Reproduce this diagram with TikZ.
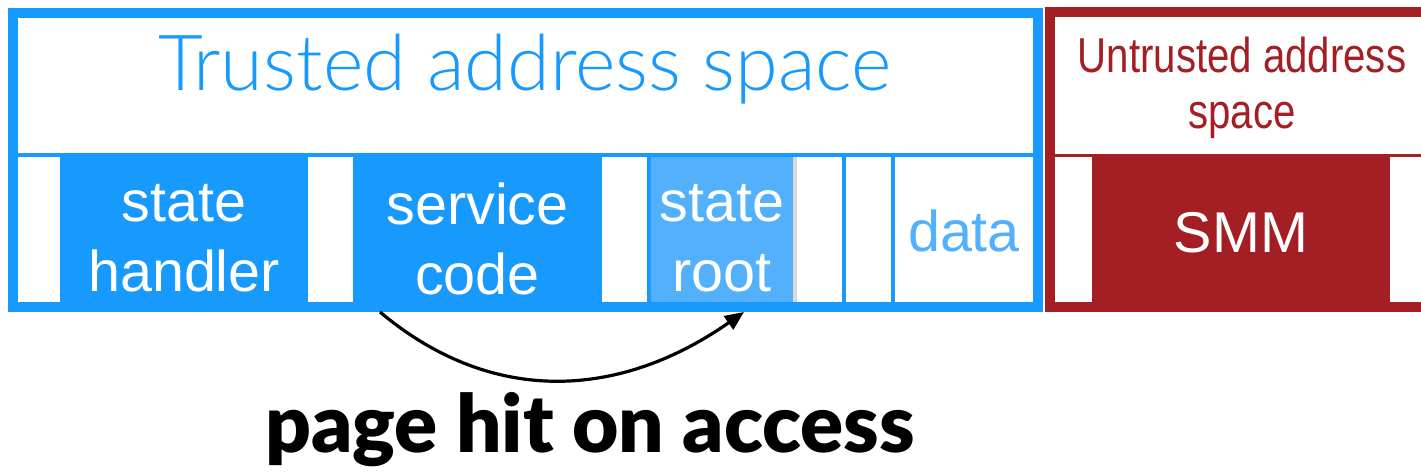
\documentclass[tikz,border=0pt]{standalone}
\usepackage{fontspec}
\setmainfont{Liberation Sans}
\newfontfamily\narrowfont{Liberation Sans}[FakeStretch=0.82]
\IfFontExistsTF{Lato Light}{\newfontfamily\lightfont{Lato Light}}{\newfontfamily\lightfont{Lato}}
\IfFontExistsTF{Lato Black}{\newfontfamily\heavyfont{Lato Black}}{\newfontfamily\heavyfont{Lato}[UprightFont={* Bold}]}
\usetikzlibrary{calc,arrows.meta,positioning}
\definecolor{trust}{HTML}{1799FE}
\definecolor{trustlt}{HTML}{52B0FC}
\definecolor{untrust}{HTML}{A31F24}
\definecolor{seam}{HTML}{D9D9D9}
\tikzset{
  cell/.style={anchor=south west,inner sep=0pt,outer sep=0pt,minimum height=145,minimum width=#1},
  celltxt/.style={white,align=center,yshift=-9pt,font=\fontsize{57.5}{70}\selectfont},
  hit/.style={-{Triangle[length=19,width=16]},line width=3.2,black}
}

\begin{document}
\begin{tikzpicture}[x=1pt,y=1pt]
\useasboundingbox (0,0) rectangle (1421,474);
\clip (0,0) rectangle (1421,474);
% trusted side
\fill[trust] (8,162) rectangle (1043,466);
\fill[white] (18,321) rectangle (1033,456);
\node[cell=42,fill=white] (t1) at (18,172) {};
\node[cell=248,fill=trust] (handler) at (60,172) {};
\node[cell=45,fill=white] (t2) at (308,172) {};
\node[cell=249,fill=trust] (code) at (353,172) {};
\node[cell=45,fill=white] (t3) at (602,172) {};
\node[cell=142,fill=trustlt] (root) at (651,172) {};
\node[cell=4,fill=seam] (rootedge) at (793,172) {};
\node[cell=45,fill=white] (t4) at (797,172) {};
\node[cell=45,fill=white] (t5) at (846,172) {};
\node[cell=138,fill=white] (data) at (895,172) {};
\node[trust,anchor=base,font=\lightfont\fontsize{77.5}{80}\selectfont] (trusted) at (525,383) {Trusted address space};
\node[celltxt] (handlertxt) at (handler) {state\\handler};
\node[celltxt] (codetxt) at (code) {service\\code};
\node[celltxt] (roottxt) at (root) {state\\root};
\node[trustlt,anchor=base,font=\fontsize{57.5}{70}\selectfont] (datatxt) at (964,222) {data};
% untrusted side
\fill[untrust] (1045,162) rectangle (1440,467);
\fill[white] (1055,172) rectangle (1440,457);
\fill[untrust] (1055,317) rectangle (1440,320);
\node[cell=298,minimum height=147,fill=untrust] (smm) at (1092,172) {};
\node[untrust,align=center,font=\narrowfont\fontsize{49}{56}\selectfont] (untrusted) at (1242,386) {Untrusted address\\space};
\node[white,anchor=base,font=\fontsize{57.5}{70}\selectfont] (smmtxt) at (1241,221) {SMM};
% access arrow
\coordinate (hitfrom) at ($(code.south west)+(27,-10)$);
\coordinate (hitto) at ($(root.south)+(22,-10)$);
\draw[hit] (hitfrom) to[out=-40,in=-145,looseness=1.05] (hitto);
\node[anchor=base,font=\heavyfont\fontsize{80}{84}\selectfont] (hitlabel) at (590,22) {page hit on access};
\end{tikzpicture}
\end{document}
